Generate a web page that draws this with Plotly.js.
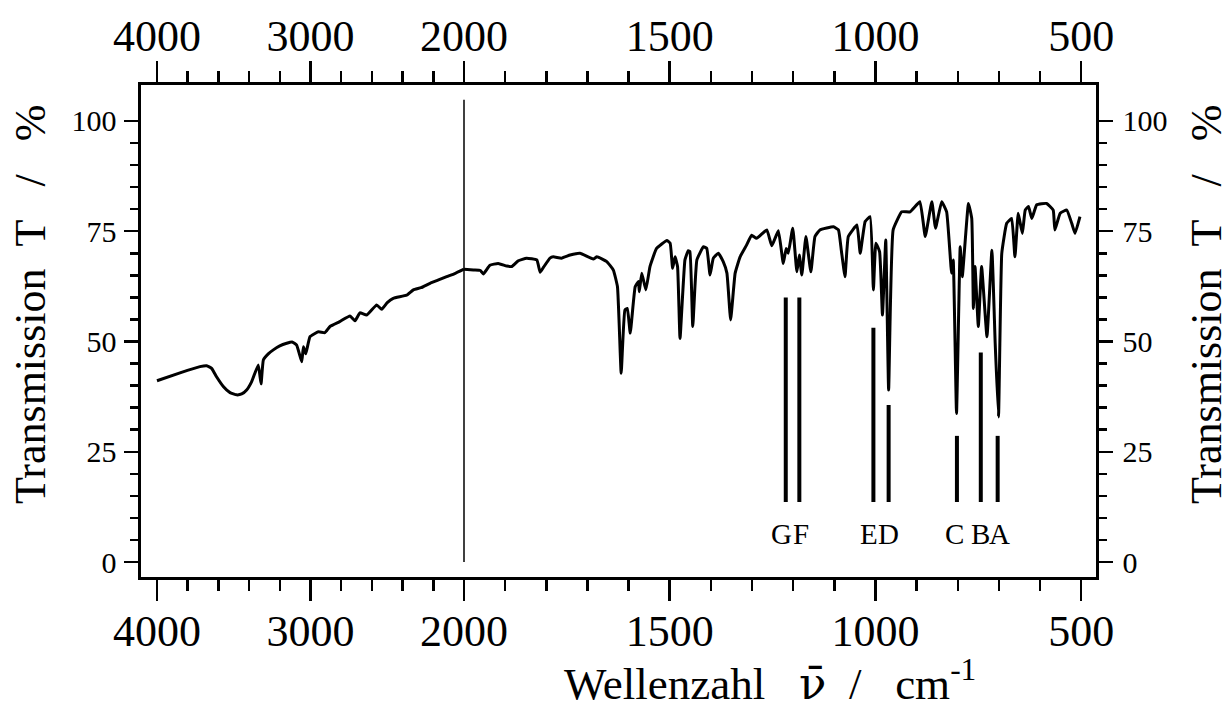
<!DOCTYPE html>
<html>
<head>
<meta charset="utf-8">
<script src="https://cdn.plot.ly/plotly-3.0.1.min.js"></script>
<style>html,body{margin:0;padding:0;background:#fff;}</style>
</head>
<body>
<div id="chart" style="width:1227px;height:704px;"></div>
<script>
// ---- data ----
const leftWn = [4000, 3850, 3720, 3676, 3644, 3612, 3568, 3524, 3481, 3448, 3416, 3383, 3340, 3322, 3307, 3275, 3242, 3200, 3155, 3120, 3090, 3057, 3046, 3031, 3003, 2949, 2906, 2873, 2810, 2743, 2710, 2678, 2634, 2569, 2536, 2500, 2461, 2374, 2330, 2280, 2221, 2170, 2113, 2060, 2000];
const leftT  = [41.1, 42.9, 44.3, 44.5, 43.9, 42.0, 39.8, 38.4, 37.9, 38.1, 39.0, 40.9, 44.7, 40.4, 45.8, 47.2, 48.1, 49.0, 49.6, 49.9, 49.2, 45.4, 48.8, 47.2, 51.1, 52.2, 52.0, 53.4, 54.5, 55.8, 54.7, 56.5, 56.0, 58.3, 57.3, 58.8, 59.8, 60.5, 61.7, 62.2, 63.2, 63.9, 64.7, 65.4, 66.4];

const rightWn = [2000, 1977, 1960, 1953, 1937, 1917, 1896, 1884, 1868, 1848, 1823, 1815, 1807, 1791, 1783, 1763, 1742, 1718, 1686, 1677, 1653, 1637, 1627, 1618, 1609, 1603, 1596, 1584, 1576, 1574, 1568, 1558, 1548, 1532, 1507, 1499, 1493, 1487, 1481, 1475, 1463, 1455, 1451, 1444, 1434, 1418, 1410, 1402, 1394, 1382, 1370, 1361, 1352, 1341, 1329, 1313, 1301, 1289, 1264, 1252, 1236, 1224, 1217, 1212, 1201, 1191, 1185, 1179, 1169, 1157, 1147, 1135, 1102, 1090, 1083, 1074, 1066, 1045, 1037, 1025, 1013, 1005, 999, 990, 983, 975, 968, 957, 936, 916, 892, 879, 863, 854, 839, 827, 815, 811, 803, 794, 789, 774, 766, 762, 758, 750, 742, 729, 717, 709, 701, 693, 681, 669, 661, 653, 643, 636, 628, 620, 608, 584, 568, 564, 551, 535, 523, 515, 503];
const rightT  = [66.4, 66.2, 66.1, 65.3, 67.3, 67.7, 67.1, 67.0, 68.3, 68.9, 68.5, 65.7, 66.8, 68.9, 69.2, 68.9, 69.6, 70.0, 68.7, 69.2, 68.1, 66.2, 62.4, 42.8, 57.1, 57.5, 51.9, 62.4, 63.6, 61.3, 65.5, 61.7, 67.0, 71.1, 72.9, 72.3, 66.6, 69.2, 67.0, 50.7, 68.5, 70.6, 70.4, 53.4, 68.5, 71.5, 71.1, 65.1, 68.9, 70.0, 68.1, 65.5, 54.9, 65.5, 69.2, 71.9, 74.1, 73.4, 75.3, 71.7, 75.1, 67.7, 71.1, 70.0, 75.7, 65.8, 69.6, 65.1, 73.8, 65.8, 73.8, 75.3, 76.0, 75.3, 70.7, 64.7, 73.8, 76.4, 70.0, 77.2, 78.3, 61.7, 72.3, 70.4, 56.0, 73.0, 39.0, 75.3, 79.4, 79.4, 81.7, 73.8, 81.7, 75.7, 81.7, 79.4, 65.5, 68.5, 33.7, 71.5, 64.7, 81.3, 77.9, 57.5, 67.0, 53.4, 67.0, 51.1, 70.7, 49.6, 32.9, 70.0, 76.8, 77.9, 69.2, 79.1, 74.5, 79.8, 80.6, 77.9, 81.0, 81.3, 79.8, 75.3, 79.1, 79.8, 76.8, 74.5, 78.3];

const markLabels = ['G', 'F', 'E', 'D', 'C', 'B', 'A'];
const markWn     = [1218, 1185, 1005, 968, 802, 744, 703];
const markTop    = [60.0, 60.0, 53.1, 35.6, 28.6, 47.5, 28.6];
const markBottom = [13.6, 13.6, 13.6, 13.6, 13.6, 13.6, 13.6];
const markLabelT = 6.3;

const leftTicks  = [4000, 3000, 2000];
const rightTicks = [1500, 1000, 500];
const leftMinor  = [3800, 3600, 3400, 3200, 2800, 2600, 2400, 2200];
const rightMinor = [1900, 1800, 1700, 1600, 1400, 1300, 1200, 1100, 900, 800, 700, 600];
const yTicks     = [0, 25, 50, 75, 100];
const yMinor     = [5, 10, 15, 20, 30, 35, 40, 45, 55, 60, 65, 70, 80, 85, 90, 95];
const separatorTop = 104.8;

// ---- build ----
const FONT = 'Liberation Serif, Times New Roman, serif';
const split = (464 - 141) / 955;
const NB = n => '\u00A0'.repeat(n);

const barX = [], barY = [];
markWn.forEach((w, i) => {
  barX.push(w, w, null);
  barY.push(markBottom[i], markTop[i], null);
});

const specLine = {color: '#000', width: 3, shape: 'spline', smoothing: 0.35};
const traces = [
  {x: leftWn, y: leftT, xaxis: 'x', yaxis: 'y', mode: 'lines',
   line: specLine, hoverinfo: 'skip', showlegend: false},
  {x: rightWn, y: rightT, xaxis: 'x2', yaxis: 'y', mode: 'lines',
   line: specLine, hoverinfo: 'skip', showlegend: false},
  {x: barX, y: barY, xaxis: 'x2', yaxis: 'y', mode: 'lines',
   line: {color: '#000', width: 4}, hoverinfo: 'skip', showlegend: false},
  {x: [], y: [], xaxis: 'x2', yaxis: 'y2', mode: 'lines', hoverinfo: 'skip', showlegend: false},
  {x: [], y: [], xaxis: 'x3', yaxis: 'y', mode: 'lines', hoverinfo: 'skip', showlegend: false},
  {x: [], y: [], xaxis: 'x4', yaxis: 'y', mode: 'lines', hoverinfo: 'skip', showlegend: false}
];

const yRange = [-3.4, 108.16];
const leftRange = [4104, 2000];
const rightRange = [2000, 464];

function xAxis(domain, range, ticks, minor, side, standoff, extra) {
  return Object.assign({
    domain: domain, range: range, autorange: false, side: side,
    tickmode: 'array', tickvals: ticks, ticktext: ticks.map(String),
    ticks: 'outside', ticklen: 21, tickwidth: 2.5, tickcolor: '#000',
    minor: {tickmode: 'array', tickvals: minor, ticks: 'outside', ticklen: 11, tickwidth: 2.5, tickcolor: '#000', showgrid: false},
    showline: true, linewidth: 2.6, linecolor: '#000',
    showgrid: false, zeroline: false,
    tickfont: {family: FONT, size: 44, color: '#000'},
    ticklabelstandoff: standoff
  }, extra);
}
function yAxis(side, standoff, extra) {
  return Object.assign({
    range: yRange, autorange: false, side: side,
    tickmode: 'array', tickvals: yTicks, ticktext: yTicks.map(String),
    ticks: 'outside', ticklen: 14, tickwidth: 2.5, tickcolor: '#000',
    minor: {tickmode: 'array', tickvals: yMinor, ticks: 'outside', ticklen: 8, tickwidth: 2.5, tickcolor: '#000', showgrid: false},
    showline: true, linewidth: 2.6, linecolor: '#000',
    showgrid: false, zeroline: false,
    tickfont: {family: FONT, size: 30, color: '#000'},
    ticklabelstandoff: standoff
  }, extra);
}

const annotations = markLabels.map((t, i) => ({
  text: t, x: markWn[i], y: markLabelT, xref: 'x2', yref: 'y',
  showarrow: false, xanchor: 'center', yanchor: 'middle',
  xshift: [-4, 2, -4, 0, -2, 0, 2][i],
  font: {family: FONT, size: 29, color: '#000'}
}));
const yTitle = 'Transmission' + NB(2) + 'T' + NB(3) + '/' + NB(3) + '%';
annotations.push(
  {text: 'Wellenzahl' + NB(3) + '<span style="font-family:DejaVu Serif">\u03BD\u0304</span>' + NB(2) + '/' + NB(3) + 'cm<sup>-1</sup>',
   xref: 'paper', yref: 'paper', x: (770 - 141) / 955, y: (577 - 681) / 492,
   showarrow: false, xanchor: 'center', yanchor: 'middle',
   font: {family: FONT, size: 45, color: '#000'}},
  {text: yTitle, xref: 'paper', yref: 'paper', x: (30 - 141) / 955, y: (577 - 305) / 492,
   showarrow: false, textangle: -90, xanchor: 'center', yanchor: 'middle',
   font: {family: FONT, size: 44, color: '#000'}},
  {text: yTitle, xref: 'paper', yref: 'paper', x: (1206 - 141) / 955, y: (577 - 305) / 492,
   showarrow: false, textangle: -90, xanchor: 'center', yanchor: 'middle',
   font: {family: FONT, size: 44, color: '#000'}}
);

const layout = {
  width: 1227, height: 704,
  margin: {l: 141, r: 131, t: 85, b: 127, pad: 0},
  paper_bgcolor: '#fff', plot_bgcolor: '#fff',
  showlegend: false,
  xaxis: xAxis([0, split], leftRange, leftTicks, leftMinor, 'bottom', -7, {anchor: 'y'}),
  xaxis2: xAxis([split, 1], rightRange, rightTicks, rightMinor, 'bottom', -7, {anchor: 'y'}),
  xaxis3: xAxis([0, split], leftRange, leftTicks, leftMinor, 'top', -7, {anchor: 'y', overlaying: 'x'}),
  xaxis4: xAxis([split, 1], rightRange, rightTicks, rightMinor, 'top', -7, {anchor: 'y', overlaying: 'x2'}),
  yaxis: yAxis('left', 2, {anchor: 'x'}),
  yaxis2: yAxis('right', 4, {anchor: 'x2', overlaying: 'y'}),
  shapes: [{type: 'line', xref: 'paper', yref: 'y', x0: split, x1: split, y0: 0, y1: separatorTop,
            line: {color: '#000', width: 1.5}}],
  annotations: annotations
};

Plotly.newPlot('chart', traces, layout, {staticPlot: true, displayModeBar: false});
</script>
</body>
</html>
